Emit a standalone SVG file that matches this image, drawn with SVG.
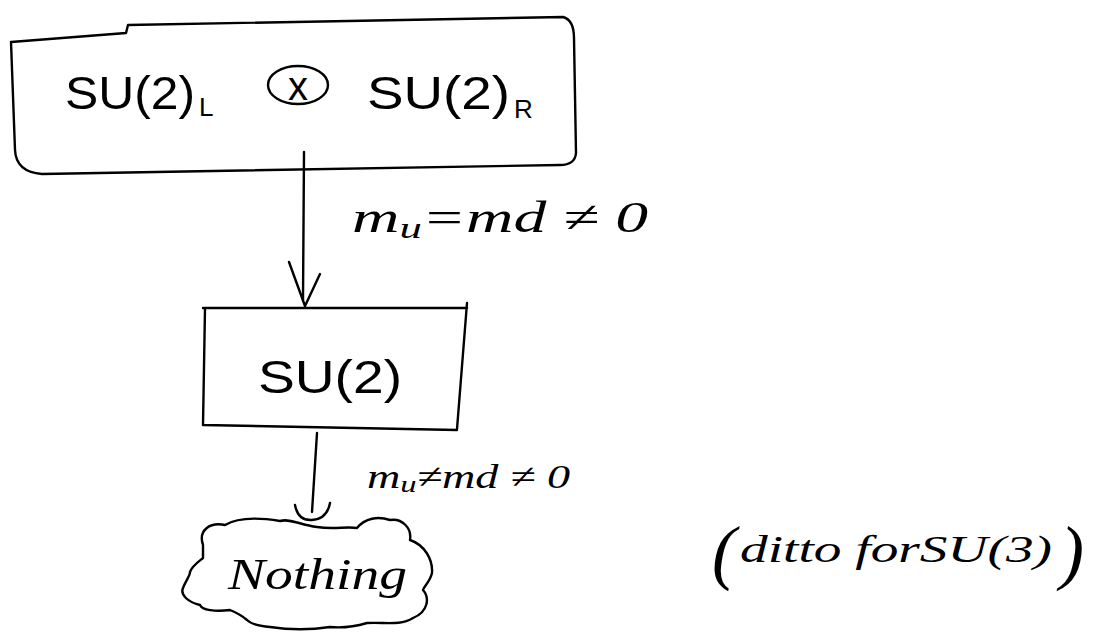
<svg xmlns="http://www.w3.org/2000/svg" width="1109" height="633" viewBox="0 0 1109 633">
<style>
.ln{fill:none;stroke:#000;stroke-width:2.4;stroke-linecap:round;stroke-linejoin:round}
.t{font-family:"Liberation Sans",Arial,sans-serif;fill:#000}
.h{font-family:"Liberation Serif","Times New Roman",serif;font-style:italic;fill:#000}
</style>
<rect width="1109" height="633" fill="#fff"/>
<g id="node-chiral">
<path class="ln" d="M11,42 L126,33 L128,25 L563,17 Q574,20 574,38 L576,153 Q575,165 560,165 L42,174 Q16,172 15,150 L11,42"/>
<text class="t" x="65" y="109" font-size="47" textLength="130" lengthAdjust="spacingAndGlyphs">SU(2)</text>
<text class="t" x="199" y="116" font-size="26">L</text>
<ellipse class="ln" cx="298" cy="85" rx="30" ry="19"/>
<text class="t" x="298" y="100" font-size="40" text-anchor="middle">x</text>
<text class="t" x="367" y="109" font-size="47" textLength="143" lengthAdjust="spacingAndGlyphs">SU(2)</text>
<text class="t" x="514" y="118" font-size="26">R</text>
</g>
<g id="node-su2">
<path class="ln" d="M203,308 L467,308 M467,303 L457,429 M205,308 L203,425 L457,430"/>
<text class="t" x="258" y="393" font-size="46" textLength="144" lengthAdjust="spacingAndGlyphs">SU(2)</text>
</g>
<g id="node-nothing">
<path class="ln" d="M203,545 C198,530 210,522 225,525 C240,516 262,518 280,521 C290,518 300,525 317,527 C335,530 345,526 357,528 C365,518 378,516 390,520 C402,518 412,528 410,540 C425,545 433,560 432,573 C430,582 424,586 423,590 C430,598 428,612 413,618 C400,626 385,622 367,623 C350,628 340,628 330,627 C310,630 290,630 270,627 C258,626 250,623 247,620 C240,614 235,612 230,610 C215,612 202,610 200,605 C188,602 180,595 183,588 C186,580 190,576 190,572 C192,566 198,562 203,558 Z"/>
<text class="h" x="228" y="589" font-size="44" textLength="179" lengthAdjust="spacingAndGlyphs">Nothing</text>
</g>
<g id="connectors">
<path class="ln" d="M304,152 L303,300"/>
<path class="ln" d="M289,262 L305,306 L320,274"/>
<path class="ln" d="M317,433 L312,512"/>
<path class="ln" d="M295,505 Q298,521 312,520 Q327,519 330,503"/>
</g>
<g id="labels">
<text class="h" x="352" y="232" font-size="44" textLength="296" lengthAdjust="spacingAndGlyphs"><tspan>m</tspan><tspan font-size="30" dy="6">u</tspan><tspan dy="-6">=md ≠ 0</tspan></text>
<text class="h" x="367" y="488" font-size="34" textLength="203" lengthAdjust="spacingAndGlyphs"><tspan>m</tspan><tspan font-size="24" dy="4">u</tspan><tspan dy="-4">≠md ≠ 0</tspan></text>
<text class="h" x="712" y="576" font-size="72">(</text>
<text class="h" x="740" y="562" font-size="38" textLength="312" lengthAdjust="spacingAndGlyphs">ditto forSU(3)</text>
<text class="h" x="1060" y="576" font-size="72">)</text>
</g>
</svg>
